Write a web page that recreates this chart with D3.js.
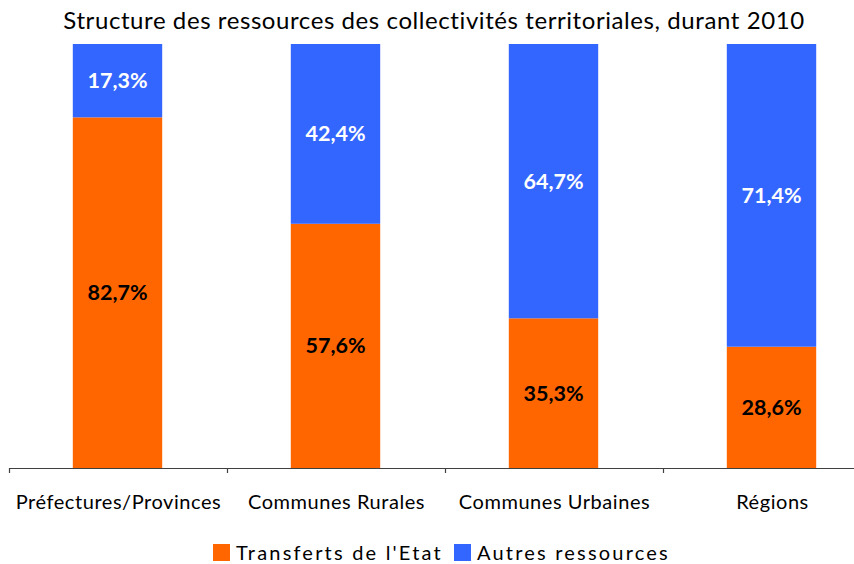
<!DOCTYPE html>
<html>
<head>
<meta charset="utf-8">
<script src="https://cdn.jsdelivr.net/npm/d3@7"></script>
<style>
  body { margin: 0; background: #fff; }
  svg { display: block; font-family: Lato, "Open Sans", sans-serif; font-variant-ligatures: none; }
</style>
</head>
<body>
<svg id="chart" width="854" height="564"></svg>
<script>
// data
var categories = ["Préfectures/Provinces", "Communes Rurales", "Communes Urbaines", "Régions"];
var transferts = [82.7, 57.6, 35.3, 28.6];
var autres = [17.3, 42.4, 64.7, 71.4];
var seriesNames = ["Transferts de l'Etat", "Autres ressources"];
var colors = ["#FF6600", "#3366FF"];

var svg = d3.select("#chart");

// plot area runs off the right edge, like the original
var x = d3.scaleBand().domain(categories).range([9.5, 881.5]).padding(0);
var y = d3.scaleLinear().domain([0, 100]).range([468, 44]);
var barW = x.bandwidth() * 0.41;

// title
svg.append("text")
    .attr("x", 434)
    .attr("y", 29)
    .attr("text-anchor", "middle")
    .style("font-size", "24px")
    .style("letter-spacing", "0.58px")
    .attr("fill", "#000")
    .text("Structure des ressources des collectivités territoriales, durant 2010");

// stack the two series
var rows = categories.map(function (c, i) {
    return { cat: c, transferts: transferts[i], autres: autres[i] };
});
var stack = d3.stack().keys(["transferts", "autres"]);
var layers = stack(rows);

var g = svg.append("g");
layers.forEach(function (layer, k) {
    g.selectAll(".seg" + k)
        .data(layer)
        .enter()
        .append("rect")
        .attr("x", function (d) { return x(d.data.cat) + x.bandwidth() / 2 - barW / 2 - 1; })
        .attr("width", barW)
        .attr("y", function (d) { return y(d[1]); })
        .attr("height", function (d) { return y(d[0]) - y(d[1]); })
        .attr("fill", colors[k]);

    g.selectAll(".lab" + k)
        .data(layer)
        .enter()
        .append("text")
        .attr("x", function (d) { return x(d.data.cat) + x.bandwidth() / 2 - 1; })
        .attr("y", function (d) { return (y(d[0]) + y(d[1])) / 2; })
        .attr("dy", "0.35em")
        .attr("text-anchor", "middle")
        .style("font-size", "21.5px")
        .style("font-weight", "bold")
        .attr("fill", k == 0 ? "#000" : "#fff")
        .text(function (d) { return (d[1] - d[0]).toFixed(1).replace(".", ",") + "%"; });
});

// x axis: line + ticks between categories
var axis = d3.axisBottom(x).tickSize(0).tickPadding(0);
var ax = svg.append("g")
    .attr("transform", "translate(0,468)")
    .call(axis);
ax.select(".domain").attr("stroke", "#404040").attr("stroke-width", 1.2);
ax.selectAll(".tick text")
    .attr("y", 41)
    .attr("dy", 0)
    .attr("fill", "#000")
    .style("font-family", "Lato, 'Open Sans', sans-serif")
    .style("font-size", "20px")
    .style("letter-spacing", "0.55px");

var boundaries = categories.map(function (c) { return x(c); });
ax.selectAll(".btick")
    .data(boundaries)
    .enter()
    .append("line")
    .attr("x1", function (d) { return d; })
    .attr("x2", function (d) { return d; })
    .attr("y1", 0)
    .attr("y2", 5)
    .attr("stroke", "#404040")
    .attr("stroke-width", 1.2);

// legend
var legendX = [213, 454];
var legend = svg.append("g");
seriesNames.forEach(function (name, k) {
    legend.append("rect")
        .attr("x", legendX[k])
        .attr("y", 544)
        .attr("width", 17)
        .attr("height", 17)
        .attr("fill", colors[k]);
    legend.append("text")
        .attr("x", legendX[k] + 23)
        .attr("y", 560)
        .style("font-size", "20px")
        .style("letter-spacing", "2.2px")
        .attr("fill", "#000")
        .text(name);
});
</script>
</body>
</html>
